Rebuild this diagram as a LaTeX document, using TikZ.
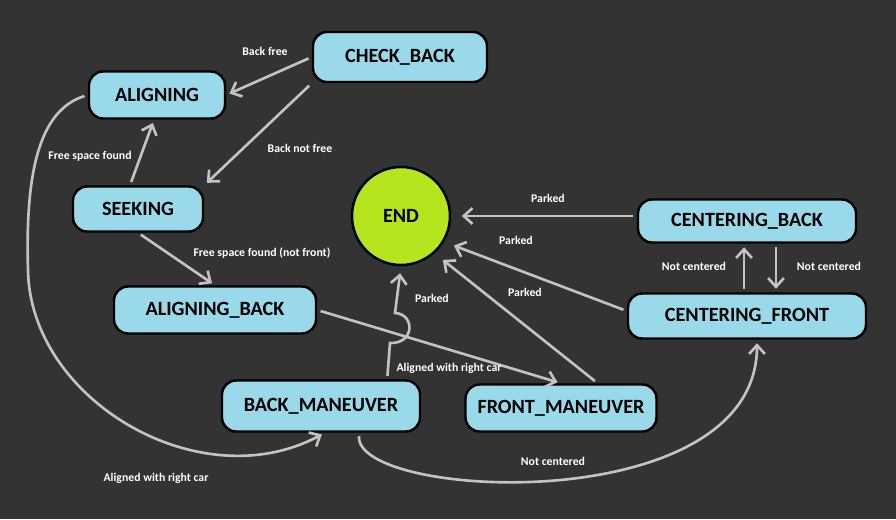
\documentclass[tikz,border=0pt]{standalone}
\usepackage{fontspec}
\setmainfont{Carlito}
\usetikzlibrary{arrows.meta}

\definecolor{bgdark}{HTML}{333333}
\definecolor{stateblue}{HTML}{99D9EA}
\definecolor{endgreen}{HTML}{B5E61D}
\definecolor{arrowgray}{HTML}{C3C3C3}

\begin{document}
\begin{tikzpicture}[
    statebox/.style={rectangle, rounded corners=8pt, draw=black, line width=1.4pt,
      fill=stateblue, inner sep=0pt, font=\bfseries\fontsize{11.5}{13}\selectfont},
    endstate/.style={circle, draw=black, line width=1.4pt, fill=endgreen,
      minimum size=1.96cm, inner sep=0pt, font=\bfseries\fontsize{11.5}{13}\selectfont},
    trans/.style={draw=arrowgray, line width=1.5pt, -{Straight Barb[length=5pt,width=9pt]},
      shorten >=2pt, shorten <=2pt},
    lbl/.style={text=white, inner sep=0pt, font=\bfseries\fontsize{6.7}{8}\selectfont}
  ]
    \fill[bgdark] (0,0) rectangle (17.92,10.38);
    \useasboundingbox (0,0) rectangle (17.92,10.38);

    \node[statebox, minimum width=3.48cm, minimum height=1.0cm] (CB) at (8.0, 9.24) {CHECK\_BACK};
    \node[statebox, minimum width=2.72cm, minimum height=0.94cm] (AL) at (3.14, 8.48) {ALIGNING};
    \node[statebox, minimum width=2.6cm, minimum height=0.9cm] (SK) at (2.76, 6.2) {SEEKING};
    \node[endstate] (END) at (8.02, 6.06) {END};
    \node[statebox, minimum width=4.36cm, minimum height=0.86cm] (CNB) at (14.94, 5.96) {CENTERING\_BACK};
    \node[statebox, minimum width=4.76cm, minimum height=0.9cm] (CNF) at (14.94, 4.06) {CENTERING\_FRONT};
    \node[statebox, minimum width=4.04cm, minimum height=0.94cm] (ALB) at (4.3, 4.18) {ALIGNING\_BACK};
    \node[statebox, minimum width=3.96cm, minimum height=1.02cm] (BM) at (6.42, 2.26) {BACK\_MANEUVER};
    \node[statebox, minimum width=3.82cm, minimum height=0.94cm] (FM) at (11.22, 2.22) {FRONT\_MANEUVER};

    % transitions
    \draw[trans] (CB.west) -- (AL.east);
    \draw[trans] (CB.south west) -- (SK.north east);
    \draw[trans] ([xshift=-0.16cm]SK.north) -- ([xshift=-0.06cm]AL.south);
    \draw[trans] (SK.south) -- (ALB.north);
    \draw[trans] (AL.west) .. controls (0.8, 8.18) and (0.5, 6.98) .. (0.56, 4.98)
      .. controls (0.6, 2.38) and (4.0, 0.38) .. ([xshift=0.08cm]BM.south);
    \draw[trans] (ALB.east) -- (FM.north);
    \draw[trans, shorten >=4pt] (BM.22) -- (7.8, 3.52)
      .. controls (8.3, 3.5) and (8.3, 4.1) .. (7.9, 4.12) -- (END.south);
    \draw[trans, shorten >=6pt] (FM.34) -- (END.-48);
    \draw[trans, shorten >=6pt] ([yshift=0.1cm]CNF.west) -- (END.-31);
    \draw[trans, shorten >=6pt] (CNB.west |- END) -- (END);
    \draw[trans] ([xshift=-0.06cm]CNF.north) -- ([xshift=-0.06cm]CNB.south);
    \draw[trans] ([xshift=0.58cm]CNB.south) -- ([xshift=0.58cm]CNF.north);
    \draw[trans] (BM.-35) .. controls (7.1, 0.38) and (15.14, -0.02) .. ([xshift=0.2cm]CNF.south);

    % labels
    \node[lbl] (lBackFree) at (5.3, 9.36) {Back free};
    \node[lbl] (lBackNotFree) at (6.0, 7.42) {Back not free};
    \node[lbl] (lFreeSpace) at (1.8, 7.26) {Free space found};
    \node[lbl] (lFreeSpaceBack) at (5.24, 5.32) {Free space found (not front)};
    \node[lbl] (lAlignedLeft) at (3.12, 0.82) {Aligned with right car};
    \node[lbl] (lAlignedMid) at (8.98, 3.02) {Aligned with right car};
    \node[lbl] (lParkedBM) at (8.64, 4.42) {Parked};
    \node[lbl] (lParkedFM) at (10.5, 4.54) {Parked};
    \node[lbl] (lParkedCNF) at (10.32, 5.58) {Parked};
    \node[lbl] (lParkedCNB) at (10.96, 6.42) {Parked};
    \node[lbl] (lNotCentUp) at (13.88, 5.06) {Not centered};
    \node[lbl] (lNotCentDown) at (16.58, 5.06) {Not centered};
    \node[lbl] (lNotCentBM) at (11.06, 1.16) {Not centered};
\end{tikzpicture}
\end{document}
